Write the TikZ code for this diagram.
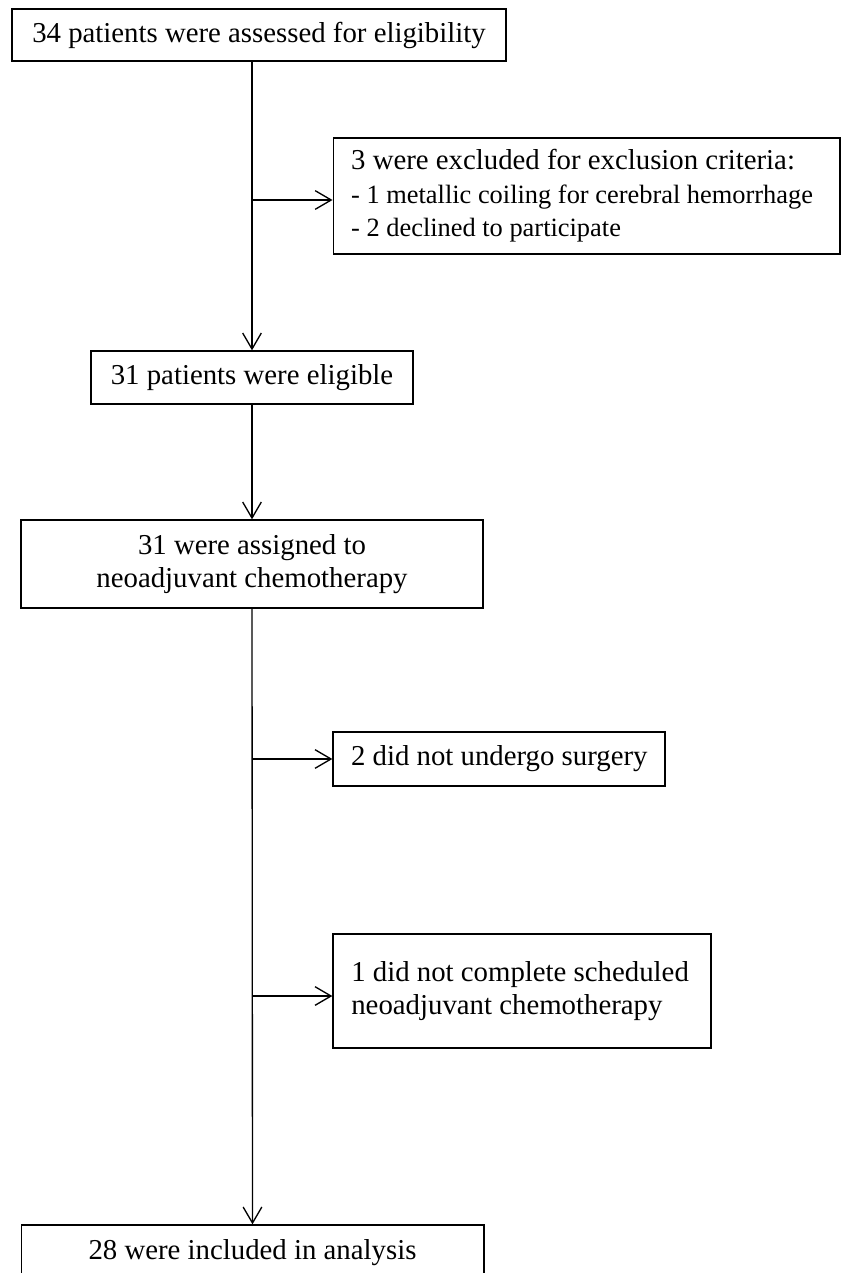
\documentclass[tikz,border=0pt]{standalone}
\usepackage{fontspec}
\setmainfont{Liberation Serif}
\usetikzlibrary{arrows.meta}
\newcommand{\smalltxt}{\fontsize{19.8}{25}\selectfont}
\begin{document}
\begin{tikzpicture}[x=0.75pt,y=-0.75pt,
  box/.style={draw,line width=1pt,inner sep=0pt,font=\fontsize{21.6}{25}\selectfont},
  cbox/.style={box,align=center},
  lbox/.style={box,align=flush left},
  flow/.style={line width=1pt,-{Straight Barb[length=12pt,width=14pt,line width=1pt]}}]
\useasboundingbox (0,0) rectangle (842,1273);
\node[cbox,minimum width=370.5pt,minimum height=39pt] (b1) at (259,35) {34 patients were assessed for eligibility};
\node[lbox,minimum width=380pt,minimum height=87pt,text width=353pt] (ex) at (586.5,196)
  {\mbox{3 were excluded for exclusion criteria:}\\\mbox{\smalltxt - 1 metallic coiling for cerebral hemorrhage}\\\mbox{\smalltxt - 2 declined to participate}};
\node[cbox,minimum width=241.5pt,minimum height=39.75pt] (el) at (252,377.5) {31 patients were eligible};
\node[cbox,minimum width=346.5pt,minimum height=66pt] (as) at (252,564) {31 were assigned to\\neoadjuvant chemotherapy};
\node[lbox,minimum width=249pt,minimum height=40.5pt,text width=222pt] (su) at (499,759) {\mbox{2 did not undergo surgery}};
\node[lbox,minimum width=283.5pt,minimum height=85.5pt,text width=256pt] (nc) at (522,991)
  {\mbox{1 did not complete scheduled}\\\mbox{neoadjuvant chemotherapy}};
\node[cbox,minimum width=347pt,minimum height=42pt] (fin) at (252.5,1253) {28 were included in analysis};
\coordinate (j1) at (252,200);
\coordinate (j2) at (252,759);
\coordinate (j3) at (252,996);
\draw[flow] (el.north |- b1.south) -- (el.north);
\draw[flow] (j1) -- (ex.west |- j1);
\draw[flow] (el.south) -- (as.north);
\draw[flow] (as.south) -- (fin.north);
\draw[flow] (j2) -- (su.west |- j2);
\draw[flow] (j3) -- (nc.west |- j3);
\end{tikzpicture}
\end{document}
